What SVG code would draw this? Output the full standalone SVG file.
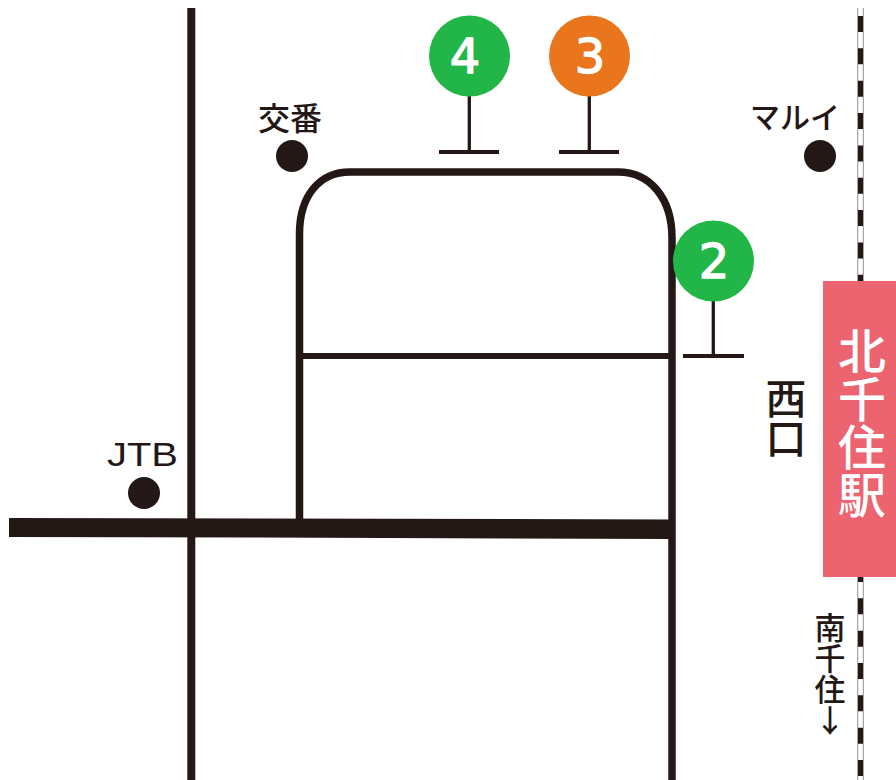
<svg xmlns="http://www.w3.org/2000/svg" width="896" height="780" viewBox="0 0 896 780">
<style>
.r{fill:none;stroke:#231815;stroke-linecap:butt}
.p{fill:none;stroke:#231815}
.d{fill:#231815}
.t{font-family:"Noto Sans CJK JP","Liberation Sans",sans-serif;fill:#231815;font-weight:500;text-anchor:middle}
.v{writing-mode:vertical-rl;text-orientation:upright;text-anchor:start}
.n{font-family:"DejaVu Sans",sans-serif;font-size:48px;fill:#fff;stroke:#fff;stroke-width:1.3;text-anchor:middle}
</style>
<rect width="896" height="780" fill="#fff"/>
<g id="railway">
<line x1="860.5" y1="8" x2="860.5" y2="780" stroke="#a9a5a3" stroke-width="7"/>
<line x1="860.5" y1="8" x2="860.5" y2="780" stroke="#fff" stroke-width="4.5"/>
<line x1="860.5" y1="16" x2="860.5" y2="780" stroke="#231815" stroke-width="5" stroke-dasharray="16 16.35"/>
</g>
<g id="connectors">
<line class="r" x1="191.300" y1="8" x2="191.300" y2="780" stroke-width="8"/>
<path class="r" stroke-width="7.500" d="M299.500 520V234C299.500 195 320 172 350 172H618C650 172 672 198 672 238V780"/>
<line class="r" x1="300" y1="356" x2="672" y2="356" stroke-width="6"/>
<polygon class="d" points="9,518 260,518.500 672,519.500 672,539 260,537.500 9,537"/>
</g>
<g id="pin4"><path class="p" stroke-width="3.300" d="M469.300 90V152"/><path class="p" stroke-width="4" d="M439 152H499"/><circle cx="469.500" cy="56" r="40.500" fill="#22b548"/><text class="n" x="465" y="73">4</text></g>
<g id="pin3"><path class="p" stroke-width="3.300" d="M589.300 90V152"/><path class="p" stroke-width="4" d="M559 152H619"/><circle cx="589.500" cy="56" r="40.500" fill="#e9751d"/><text class="n" x="590" y="73">3</text></g>
<g id="pin2"><path class="p" stroke-width="3.300" d="M713.300 295V356"/><path class="p" stroke-width="4" d="M683 356H744"/><circle cx="713.500" cy="261" r="40.500" fill="#22b548"/><text class="n" x="714" y="278">2</text></g>
<g id="koban"><circle class="d" cx="292" cy="156" r="16"/><text class="t" x="290" y="130" font-size="32">交番</text></g>
<g id="marui"><circle class="d" cx="820" cy="156" r="16"/><text class="t" x="795" y="128" font-size="30">マルイ</text></g>
<g id="jtb"><circle class="d" cx="144" cy="493" r="16"/><text x="142.500" y="466" font-family="Liberation Sans,sans-serif" font-size="33.500" fill="#231815" text-anchor="middle" textLength="71" lengthAdjust="spacingAndGlyphs">JTB</text></g>
<g id="station"><rect x="823" y="281" width="73" height="296" fill="#eb6470"/>
<text class="t v" x="862" y="327" font-size="48" style="fill:#fff">北千住駅</text></g>
<g id="west"><text class="t v" x="786" y="378" font-size="41" letter-spacing="-1">西口</text></g>
<g id="south"><text class="t v" x="830" y="612" font-size="31">南千住↓</text></g>
</svg>
